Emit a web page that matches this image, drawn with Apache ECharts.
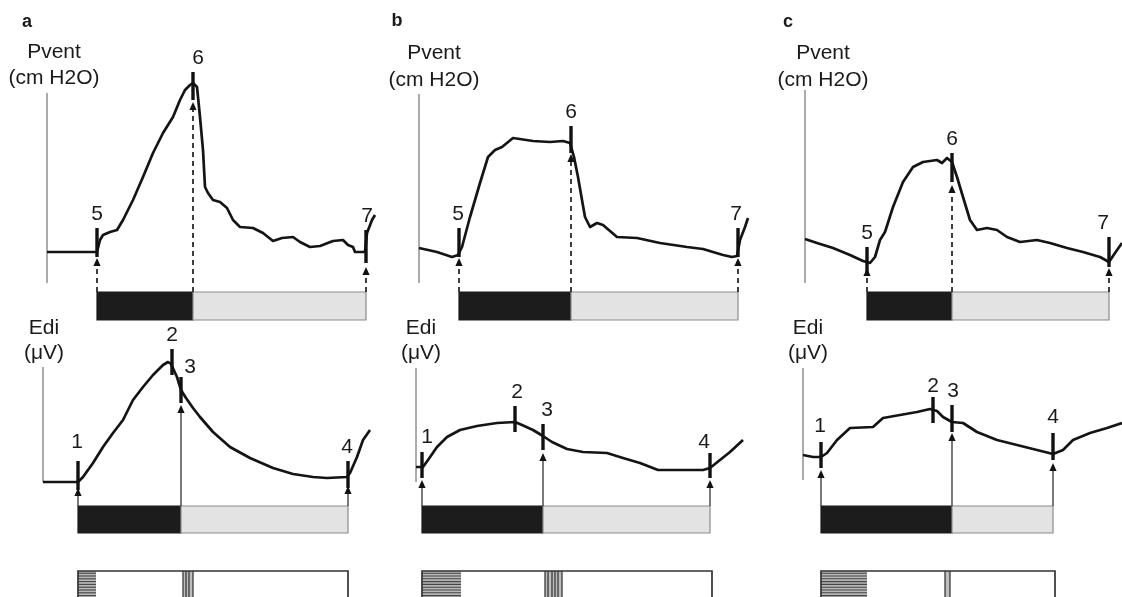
<!DOCTYPE html>
<html><head><meta charset="utf-8">
<script src="https://cdn.jsdelivr.net/npm/echarts/dist/echarts.min.js"></script>
<style>html,body{margin:0;padding:0;background:#fff}#c{width:1122px;height:597px}</style>
</head><body><div id="c"></div><script>
const FONT = "'Liberation Sans', Arial, Helvetica, sans-serif";

// ---- text ----
const panelLetters = ['a', 'b', 'c'];
const pventTitle = ['Pvent', '(cm H2O)'];
const ediTitle = ['Edi', '(\u03bcV)'];

// ---- panel a (time a.u., amplitude a.u.) ----
const aPvent = [[0,31],[45,31],[46,29],[50,31],[53,43],[56,48],[63,51],[70,53],[76,63],[86,83],[96,106],[106,130],[116,150],[126,166],[133,183],[138,193],[143,198],[146,200],[150,196],[153,166],[156,133],[158,96],[161,90],[166,83],[173,81],[180,75],[186,63],[193,56],[206,55],[216,50],[226,42],[235,45],[246,46],[253,41],[263,36],[273,37],[286,42],[296,43],[301,38],[306,36],[308,31],[318,31],[320,50],[325,63],[328,68]];
const aPventMarks = [['5',50,26,55],['6',146,183,211],['7',319,20,53]];
const aPventArrows = [[50,25],[146,181],[319,16]];
const aPventPhase = [50,146,319];
const aEdi = [[0,0],[35,0],[40,5],[50,19],[60,35],[70,49],[80,62],[90,82],[100,95],[110,107],[120,117],[125,120],[128,118],[134,105],[138,92],[143,84],[150,74],[157,65],[170,50],[187,35],[207,24],[230,14],[250,8],[270,5],[284,4],[304,5],[307,9],[314,25],[320,42],[327,52]];
const aEdiMarks = [['1',35,-8,21],['2',129,107,133],['3',138,79,105],['4',305,-6,21]];
const aEdiArrows = [[35,-6],[138,77],[305,-4]];
const aEdiPhase = [35,138,305];
const aBox = [35,305], aHatch = [35,53], aVlines = [140,143,146,150];

// ---- panel b ----
const bPvent = [[0,35],[18,31],[33,26],[39,28],[43,36],[51,66],[61,100],[69,126],[76,133],[83,136],[94,145],[114,142],[131,141],[144,142],[151,140],[155,126],[159,106],[163,83],[166,66],[171,56],[178,60],[184,58],[198,46],[218,45],[241,40],[268,36],[284,34],[304,28],[313,26],[318,27],[321,43],[326,56],[329,65]];
const bPventMarks = [['5',40,26,55],['6',152,130,157],['7',319,26,55]];
const bPventArrows = [[40,25],[152,129],[319,25]];
const bPventPhase = [40,152,319];
const bEdi = [[0,15],[7,15],[12,22],[21,35],[31,45],[44,52],[61,56],[81,59],[99,60],[106,57],[117,52],[127,46],[136,40],[151,33],[167,30],[191,29],[207,24],[224,19],[242,12],[261,12],[287,12],[294,14],[304,22],[314,30],[327,42]];
const bEdiMarks = [['1',6,4,30],['2',99,50,76],['3',127,32,58],['4',294,4,29]];
const bEdiArrows = [[6,2],[127,29],[294,2]];
const bEdiPhase = [6,127,294];
const bBox = [6,296], bHatch = [6,45], bVlines = [129,132,136,139,142,146];

// ---- panel c ----
const cPvent = [[0,44],[12,40],[28,35],[45,28],[58,22],[65,20],[70,26],[75,43],[80,51],[88,76],[98,101],[108,116],[118,121],[132,123],[137,120],[142,125],[147,121],[152,106],[158,86],[165,63],[172,53],[182,55],[192,53],[202,46],[215,41],[232,43],[245,40],[262,35],[278,31],[295,26],[304,21],[310,30],[317,40]];
const cPventMarks = [['5',62,11,36],['6',147,101,130],['7',304,16,46]];
const cPventArrows = [[62,15],[147,98],[304,15]];
const cPventPhase = [62,147,304];
const cEdi = [[0,27],[10,25],[18,25],[24,29],[34,42],[47,54],[70,55],[80,64],[97,67],[114,70],[127,73],[134,71],[140,65],[149,60],[160,59],[174,50],[194,42],[214,37],[234,32],[250,28],[260,32],[270,42],[287,49],[304,54],[319,59]];
const cEdiMarks = [['1',18,14,40],['2',130,59,85],['3',149,50,77],['4',250,22,49]];
const cEdiArrows = [[18,12],[149,49],[250,19]];
const cEdiPhase = [18,149,250];
const cBox = [18,252], cHatch = [18,64], cVlines = [142,147];

// ---- layout (pixels) & styling ----
const panels = [
  {letter:panelLetters[0], pLeft:47, pW:335, eLeft:43, eW:335,
   pvent:aPvent, pMarks:aPventMarks, pArrows:aPventArrows, pPhase:aPventPhase, pAxis:[0,190],
   edi:aEdi, eMarks:aEdiMarks, eArrows:aEdiArrows, ePhase:aEdiPhase, eAxis:[0,115],
   box:aBox, hatch:aHatch, vlines:aVlines,
   letterPos:[-20,261], pTitlePos:[7,231,205], eTitlePos:[1,154,129],
   pShift:{'6':[5,-14],'7':[1,-14]}, eShift:{'1':[-1,-19],'3':[9,-10],'4':[-1,-14]}},
  {letter:panelLetters[1], pLeft:419, pW:335, eLeft:416, eW:335,
   pvent:bPvent, pMarks:bPventMarks, pArrows:bPventArrows, pPhase:bPventPhase, pAxis:[0,189],
   edi:bEdi, eMarks:bEdiMarks, eArrows:bEdiArrows, ePhase:bEdiPhase, eAxis:[0,114],
   box:bBox, hatch:bHatch, vlines:bVlines,
   letterPos:[-22,262], pTitlePos:[15,230,203], eTitlePos:[5,154,129],
   pShift:{'5':[-1,-14],'7':[-2,-14]}, eShift:{'1':[5,-15],'2':[2,-14],'3':[4,-14],'4':[-6,-11]}},
  {letter:panelLetters[2], pLeft:805, pW:317, eLeft:803, eW:319,
   pvent:cPvent, pMarks:cPventMarks, pArrows:cPventArrows, pPhase:cPventPhase, pAxis:[0,193],
   edi:cEdi, eMarks:cEdiMarks, eArrows:cEdiArrows, ePhase:cEdiPhase, eAxis:[2,114],
   box:cBox, hatch:cHatch, vlines:cVlines,
   letterPos:[-17,261], pTitlePos:[18,230,203], eTitlePos:[5,154,129],
   pShift:{'7':[-6,-14]}, eShift:{'1':[-1,-16],'2':[0,-11],'3':[1,-14],'4':[0,-16]}}
];
const P_RANGE = [-47, 283], E_RANGE = [-115, 172];
const P_BAR = [-9, -37], E_BAR = [-24, -51], BOX_TOP = -89, BOX_BOT = -130;

const grids = [], xAxes = [], yAxes = [], series = [];

function textSeries(gi, items, font, weight) {
  return {type:'custom', xAxisIndex:gi, yAxisIndex:gi, silent:true, z:6,
    data: items.map(it => [it[0], it[1]]),
    renderItem(params, api) {
      const p = api.coord([api.value(0), api.value(1)]);
      return {type:'text', x:p[0], y:p[1], style:{text:items[params.dataIndex][2], fill:'#1a1a1a',
        font:(weight||'normal') + ' ' + font + 'px ' + FONT, align:'center', verticalAlign:'middle'}};
    }};
}
function axisSeries(gi, rng) {
  return {type:'line', xAxisIndex:gi, yAxisIndex:gi, data:[[0,rng[0]],[0,rng[1]]], symbol:'none',
    lineStyle:{color:'#8f8f8f', width:1.5}, silent:true, z:2};
}
function traceSeries(gi, data) {
  return {type:'line', xAxisIndex:gi, yAxisIndex:gi, data, symbol:'none', showSymbol:false, clip:false,
    lineStyle:{color:'#141414', width:2.7, join:'round'}, silent:true, z:4};
}
function markSeries(gi, marks, shifts) {
  return {type:'custom', xAxisIndex:gi, yAxisIndex:gi, silent:true, z:5,
    data: marks.map(m => [m[1], m[2], m[3]]),
    renderItem(params, api) {
      const m = marks[params.dataIndex];
      const b = api.coord([api.value(0), api.value(1)]);
      const t = api.coord([api.value(0), api.value(2)]);
      const s = shifts[m[0]] || [0, -14];
      return {type:'group', children:[
        {type:'line', shape:{x1:b[0], y1:b[1], x2:t[0], y2:t[1]}, style:{stroke:'#111', lineWidth:3.4}},
        {type:'text', x:t[0]+s[0], y:t[1]+s[1], style:{text:m[0], fill:'#1a1a1a', font:'21px ' + FONT, align:'center', verticalAlign:'middle'}}
      ]};
    }};
}
function arrowSeries(gi, arrows, baseY, dashed) {
  return {type:'custom', xAxisIndex:gi, yAxisIndex:gi, silent:true, z:3, data: arrows,
    renderItem(params, api) {
      const x = api.value(0);
      const b = api.coord([x, baseY]), t = api.coord([x, api.value(1)]);
      const h = 8, w = 3.6;
      return {type:'group', children:[
        {type:'line', shape:{x1:b[0], y1:b[1], x2:t[0], y2:t[1]+h-1},
          style:{stroke: dashed ? '#2a2a2a' : '#333', lineWidth: dashed ? 1.8 : 1.3, lineDash: dashed ? [5,4] : null}},
        {type:'polygon', shape:{points:[[t[0], t[1]], [t[0]-w, t[1]+h], [t[0]+w, t[1]+h]]}, style:{fill:'#111'}}
      ]};
    }};
}
function phaseSeries(gi, phase, bar) {
  return {type:'custom', xAxisIndex:gi, yAxisIndex:gi, silent:true, z:2,
    data: [[phase[0], phase[1]], [phase[1], phase[2]]],
    renderItem(params, api) {
      const p0 = api.coord([api.value(0), bar[0]]), p1 = api.coord([api.value(1), bar[1]]);
      const insp = params.dataIndex === 0;
      return {type:'rect', shape:{x:p0[0], y:p0[1], width:p1[0]-p0[0], height:p1[1]-p0[1]},
        style:{fill: insp ? '#1c1c1c' : '#e3e3e3', stroke: insp ? '#1c1c1c' : '#8c8c8c', lineWidth:1.2}};
    }};
}
function boxSeries(gi, box, hatch, vlines) {
  return {type:'custom', xAxisIndex:gi, yAxisIndex:gi, silent:true, z:2,
    data: [[box[0], box[1], hatch[0], hatch[1]]],
    renderItem(params, api) {
      const a = api.coord([api.value(0), BOX_TOP]), b = api.coord([api.value(1), BOX_BOT]);
      const h0 = api.coord([api.value(2), BOX_TOP])[0], h1 = api.coord([api.value(3), BOX_TOP])[0];
      const ch = [];
      ch.push({type:'rect', shape:{x:h0, y:a[1], width:h1-h0, height:b[1]-a[1]}, style:{fill:'#b8b8b8'}});
      for (let y = a[1] + 2.2; y < b[1]; y += 2.8)
        ch.push({type:'line', shape:{x1:h0, y1:y, x2:h1, y2:y}, style:{stroke:'#444', lineWidth:1.1}});
      const vx = vlines.map(v => api.coord([v, BOX_TOP])[0]);
      ch.push({type:'rect', shape:{x:vx[0], y:a[1], width:vx[vx.length-1]-vx[0], height:b[1]-a[1]}, style:{fill:'#bdbdbd'}});
      vx.forEach(x => ch.push({type:'line', shape:{x1:x, y1:a[1], x2:x, y2:b[1]}, style:{stroke:'#3a3a3a', lineWidth:1.3}}));
      ch.push({type:'polyline', shape:{points:[[a[0], b[1]], [a[0], a[1]], [b[0], a[1]], [b[0], b[1]]]},
        style:{stroke:'#333', lineWidth:1.7, fill:null}});
      return {type:'group', children:ch};
    }};
}

panels.forEach((pn, i) => {
  const gp = i * 2, ge = i * 2 + 1;
  grids.push({left:pn.pLeft, top:0, width:pn.pW, height:330});
  grids.push({left:pn.eLeft, top:310, width:pn.eW, height:287});
  xAxes.push({gridIndex:gp, type:'value', min:0, max:pn.pW, show:false});
  xAxes.push({gridIndex:ge, type:'value', min:0, max:pn.eW, show:false});
  yAxes.push({gridIndex:gp, type:'value', min:P_RANGE[0], max:P_RANGE[1], show:false});
  yAxes.push({gridIndex:ge, type:'value', min:E_RANGE[0], max:E_RANGE[1], show:false});

  series.push(textSeries(gp, [[pn.letterPos[0], pn.letterPos[1], pn.letter]], 18, 'bold'));
  series.push(textSeries(gp, [[pn.pTitlePos[0], pn.pTitlePos[1], pventTitle[0]], [pn.pTitlePos[0], pn.pTitlePos[2], pventTitle[1]]], 21));
  series.push(axisSeries(gp, pn.pAxis));
  series.push(phaseSeries(gp, pn.pPhase, P_BAR));
  series.push(arrowSeries(gp, pn.pArrows, P_BAR[0], true));
  series.push(traceSeries(gp, pn.pvent));
  series.push(markSeries(gp, pn.pMarks, pn.pShift));

  series.push(textSeries(ge, [[pn.eTitlePos[0], pn.eTitlePos[1], ediTitle[0]], [pn.eTitlePos[0], pn.eTitlePos[2], ediTitle[1]]], 21));
  series.push(axisSeries(ge, pn.eAxis));
  series.push(phaseSeries(ge, pn.ePhase, E_BAR));
  series.push(arrowSeries(ge, pn.eArrows, E_BAR[0], false));
  series.push(traceSeries(ge, pn.edi));
  series.push(markSeries(ge, pn.eMarks, pn.eShift));
  series.push(boxSeries(ge, pn.box, pn.hatch, pn.vlines));
});

const chart = echarts.init(document.getElementById('c'), null, {renderer:'canvas'});
chart.setOption({backgroundColor:'#ffffff', animation:false, grid:grids, xAxis:xAxes, yAxis:yAxes, series});
</script></body></html>
